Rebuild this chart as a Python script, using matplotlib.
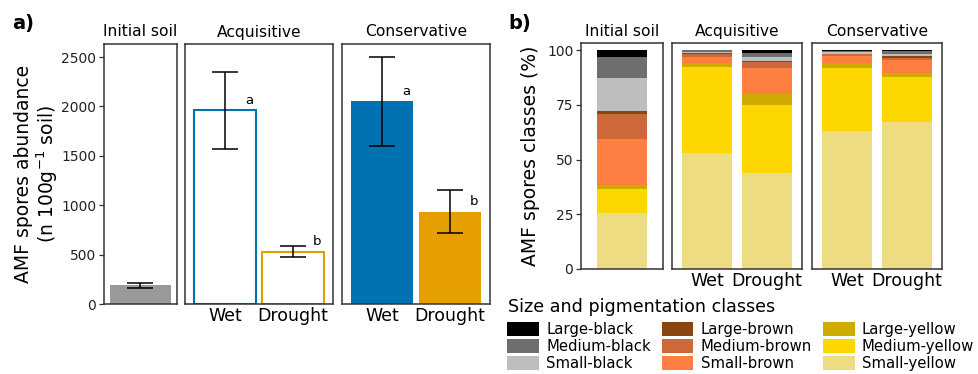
import numpy as np
import matplotlib.pyplot as plt
from matplotlib.patches import Patch

# ---- data: panel a (spore abundance, n 100 g-1 soil) ----
init_mean = 190
init_se = 25
treatments = ['Wet', 'Drought']
acq_mean = [1960, 530]
acq_se = [390, 53]
cons_mean = [2050, 935]
cons_se = [452, 216]
acq_letters = ['a', 'b']
cons_letters = ['a', 'b']

# ---- data: panel b (size and pigmentation classes, %) ----
classes = ['Large-black', 'Medium-black', 'Small-black',
           'Large-brown', 'Medium-brown', 'Small-brown',
           'Large-yellow', 'Medium-yellow', 'Small-yellow']
class_colors = ['#000000', '#6e6e6e', '#bebebe',
                '#8b4513', '#cd6839', '#ff7f42',
                '#cdab00', '#ffd700', '#eedc82']
# stacking order bottom -> top
stack_order = ['Small-yellow', 'Medium-yellow', 'Large-yellow',
               'Small-brown', 'Medium-brown', 'Large-brown',
               'Small-black', 'Medium-black', 'Large-black']
init_pct = [25.7, 11.0, 1.5, 21.2, 11.2, 1.5, 15.1, 9.4, 3.4]
acq_wet_pct = [52.8, 39.4, 1.4, 3.3, 1.3, 0.3, 0.8, 0.5, 0.2]
acq_dro_pct = [44.0, 30.9, 5.0, 11.9, 2.7, 0.6, 1.8, 1.9, 1.2]
cons_wet_pct = [63.0, 28.6, 2.3, 3.4, 0.8, 0.3, 0.7, 0.5, 0.4]
cons_dro_pct = [67.0, 20.8, 1.5, 6.0, 1.2, 0.6, 1.2, 1.2, 0.5]

blue = '#0072b2'
orange = '#e69f00'
grey = '#999999'
frame_col = '#333333'

W, H = 979, 374
fig = plt.figure(figsize=(W / 100, H / 100), dpi=100)


def axes_px(x0, x1, y0, y1):
    # pixel box -> figure fraction axes
    return fig.add_axes([x0 / W, 1 - y1 / H, (x1 - x0) / W, (y1 - y0) / H])


def style_frame(ax, left_ticks):
    for s in ax.spines.values():
        s.set_color(frame_col)
        s.set_linewidth(1.1)
    ax.tick_params(axis='x', length=0, labelsize=12.5, pad=2, labelcolor='black')
    if left_ticks:
        ax.tick_params(axis='y', length=3.5, width=0.9, color=frame_col,
                       labelsize=10, labelcolor='#222222', pad=2)
    else:
        ax.set_yticks([])


# ================= panel a =================
ymax_a = 2632
a0 = axes_px(104, 177, 44, 304)
a1 = axes_px(185, 333, 44, 304)
a2 = axes_px(342, 490, 44, 304)

a0.bar([1], [init_mean], width=1.0, color=grey)
a0.errorbar([1], [init_mean], yerr=[init_se], fmt='none', ecolor='black',
            elinewidth=1.1, capsize=9.5, capthick=1.1)
a0.set_xlim(0.4, 1.6)
a0.set_xticks([])
a0.set_yticks([0, 500, 1000, 1500, 2000, 2500])

x = np.array([1, 2])
a1.bar(x, acq_mean, width=0.92, color='white', edgecolor=[blue, orange], linewidth=1.5)
a2.bar(x, cons_mean, width=0.92, color=[blue, orange])
for ax, m, se, lets in [(a1, acq_mean, acq_se, acq_letters),
                        (a2, cons_mean, cons_se, cons_letters)]:
    ax.errorbar(x, m, yerr=se, fmt='none', ecolor='black',
                elinewidth=1.1, capsize=9.5, capthick=1.1, zorder=5)
    for xi, mi, l in zip(x, m, lets):
        ax.text(xi + 0.36, mi + 100, l, fontsize=9.5, ha='center', va='center')
    ax.set_xlim(0.4, 2.6)
    ax.set_xticks(x)
    ax.set_xticklabels(treatments)

for ax in (a0, a1, a2):
    ax.set_ylim(0, ymax_a)
    style_frame(ax, ax is a0)

# ================= panel b =================
ymax_b = 103.2
b0 = axes_px(581, 663, 43, 269)
b1 = axes_px(672, 802, 43, 269)
b2 = axes_px(812, 942, 43, 269)

col_of = dict(zip(classes, class_colors))


def stacked(ax, xs, series, width):
    bottoms = np.zeros(len(xs))
    for k, name in enumerate(stack_order):
        vals = np.array([s[k] for s in series])
        ax.bar(xs, vals, bottom=bottoms, width=width, color=col_of[name], linewidth=0)
        bottoms += vals


stacked(b0, [1], [init_pct], 0.73)
b0.set_xlim(0.4, 1.6)
b0.set_xticks([])
b0.set_yticks([0, 25, 50, 75, 100])

stacked(b1, x, [acq_wet_pct, acq_dro_pct], 0.846)
stacked(b2, x, [cons_wet_pct, cons_dro_pct], 0.846)
for ax in (b1, b2):
    ax.set_xlim(0.4, 2.6)
    ax.set_xticks(x)
    ax.set_xticklabels(treatments)

for ax in (b0, b1, b2):
    ax.set_ylim(0, ymax_b)
    style_frame(ax, ax is b0)

# ---- facet titles, panel tags, axis labels ----
strip_names = ['Initial soil', 'Acquisitive', 'Conservative']
for name, (x0, x1) in zip(strip_names, [(104, 177), (185, 333), (342, 490)]):
    fig.text((x0 + x1) / 2 / W, 1 - 32 / H, name, ha='center', va='center', fontsize=11.2)
for name, (x0, x1) in zip(strip_names, [(581, 663), (672, 802), (812, 942)]):
    fig.text((x0 + x1) / 2 / W, 1 - 31.5 / H, name, ha='center', va='center', fontsize=11.2)

fig.text(12 / W, 1 - 24 / H, 'a)', fontsize=14, fontweight='bold', ha='left', va='center')
fig.text(508 / W, 1 - 24 / H, 'b)', fontsize=14, fontweight='bold', ha='left', va='center')

fig.text(37 / W, 1 - 174 / H, 'AMF spores abundance\n(n 100g$^{-1}$ soil)',
         rotation=90, ha='center', va='center', multialignment='center',
         fontsize=13.5, linespacing=1.1)
fig.text(530 / W, 1 - 156 / H, 'AMF spores classes (%)',
         rotation=90, ha='center', va='center', fontsize=13.5)

# ---- legend ----
fig.text(508 / W, 1 - 307 / H, 'Size and pigmentation classes',
         ha='left', va='center', fontsize=12.6)
handles = [Patch(facecolor=c, edgecolor='none', label=n)
           for n, c in zip(classes, class_colors)]
leg = fig.legend(handles=handles, ncol=3, loc='upper left',
                 bbox_to_anchor=(507 / W, 1 - 322 / H), frameon=False,
                 fontsize=10.7, handlelength=2.15, handleheight=1.05,
                 handletextpad=0.5, columnspacing=0.7, labelspacing=0.15,
                 borderpad=0, borderaxespad=0)

fig.savefig('out.png', dpi=100)
